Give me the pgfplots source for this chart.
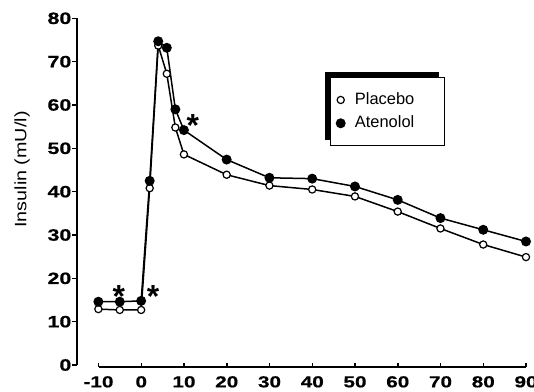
\documentclass[border=0pt]{standalone}
\usepackage{fontspec}
\setmainfont{Liberation Sans}
\newfontfamily\tickfont[FakeStretch=1.3, FakeBold=0.6]{Liberation Sans}
\newfontfamily\labfont[FakeStretch=1.2]{Liberation Sans}
\usepackage{pgfplots}
\pgfplotsset{compat=1.18}
\begin{document}
\begin{tikzpicture}
\begin{axis}[
  at={(0bp,0bp)}, anchor=south west,
  scale only axis, width=449bp, height=346.7bp,
  xmin=-15, xmax=90, ymin=0, ymax=80,
  axis y line*=left, axis x line=none,
  axis line style={-, line width=1.6bp},
  ytick={0,10,20,30,40,50,60,70,80},
  yticklabels={0,10,20,30,40,50,60,70,80},
  tick align=outside, major tick length=4.5bp,
  tick style={black, line width=1.5bp},
  yticklabel style={font=\tickfont\bfseries\fontsize{16.5}{16.5}\selectfont, inner sep=1bp, anchor=east},
  ylabel={Insulin (mU/l)},
  every axis y label/.style={at={(axis description cs:-0.1225,0.564)}, rotate=90, anchor=center, font=\labfont\fontsize{16.5}{16.5}\selectfont},
  clip=false,
  legend style={at={(axis description cs:0.578,0.798)}, anchor=north west,
    draw=none, fill=none, inner sep=0pt, outer sep=0pt,
    font=\fontsize{16.5}{16.5}\selectfont,
    nodes={inner sep=0pt, text height=15.8bp, text depth=7.5bp}},
  legend cell align=left,
  legend image code/.code={\draw[#1] plot coordinates {(0bp,0bp)};},
]
\fill[black] ([xshift=247.5bp,yshift=224.5bp]axis description cs:0,0) rectangle ([xshift=362bp,yshift=292.5bp]axis description cs:0,0);
\draw[fill=white, line width=0.8bp] ([xshift=253bp,yshift=220bp]axis description cs:0,0) rectangle ([xshift=367.5bp,yshift=288bp]axis description cs:0,0);
\addplot[black, line width=1.5bp, mark=*, mark size=3.6bp, mark options={fill=white, line width=1.2bp}] coordinates {
(-10,12.9) (-5,12.7) (0,12.7) (2,40.8) (4,73.7) (6,67.2) (8,54.8) (10,48.6)
(20,43.9) (30,41.4) (40,40.5) (50,38.9) (60,35.4) (70,31.5) (80,27.8) (90,24.9)};
\addlegendentry{\hspace*{10bp}Placebo}
\addplot[black, line width=1.5bp, mark=*, mark size=4.2bp, mark options={fill=black}] coordinates {
(-10,14.6) (-5,14.6) (0,14.8) (2,42.5) (4,74.7) (6,73.2) (8,59.0) (10,54.2)
(20,47.4) (30,43.2) (40,43.0) (50,41.2) (60,38.1) (70,33.9) (80,31.2) (90,28.5)};
\addlegendentry{\hspace*{10bp}Atenolol}
\node[font=\bfseries\fontsize{32}{32}\selectfont, inner sep=0pt, yshift=-7bp] at (axis cs:-5.2,17.5) {*};
\node[font=\bfseries\fontsize{32}{32}\selectfont, inner sep=0pt, yshift=-7bp] at (axis cs:2.8,17.3) {*};
\node[font=\bfseries\fontsize{32}{32}\selectfont, inner sep=0pt, yshift=-7bp] at (axis cs:12.1,56.8) {*};
\end{axis}
\begin{axis}[
  at={(21.5bp,-2bp)}, anchor=south west,
  scale only axis, width=427.5bp, height=346.7bp,
  xmin=-10, xmax=90, ymin=0, ymax=1,
  axis x line*=bottom, axis y line=none,
  axis line style={-, line width=1.6bp},
  xtick={-10,0,10,20,30,40,50,60,70,80,90},
  xticklabels={-10,0,10,20,30,40,50,60,70,80,90},
  tick align=inside, major tick length=4bp,
  tick style={black, line width=1.5bp},
  xticklabel style={font=\tickfont\bfseries\fontsize{16}{16}\selectfont, inner sep=0pt, anchor=north, yshift=-9bp},
]
\end{axis}
\pgfresetboundingbox
\path (-77bp,-27bp) rectangle (457bp,365bp);
\end{tikzpicture}
\end{document}
